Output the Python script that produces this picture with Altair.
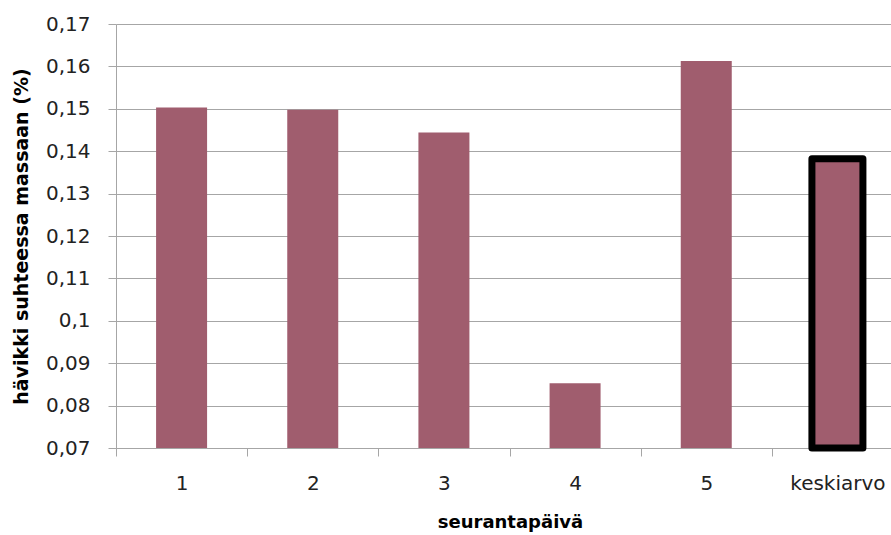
import altair as alt
import pandas as pd

# Loss relative to mass (%) per monitoring day, plus the mean
paivat = ["1", "2", "3", "4", "5", "keskiarvo"]
havikki = [0.1503, 0.1498, 0.1444, 0.0853, 0.1613, 0.1382]
korostus = [False, False, False, False, False, True]

df = pd.DataFrame({"paiva": paivat, "havikki": havikki, "keskiarvo": korostus})

FONT = "DejaVu Sans"
BAR = "#A05D6E"
GRID = "#A6A6A6"

base = alt.Chart(df).encode(
    x=alt.X(
        "paiva:N",
        sort=paivat,
        scale=alt.Scale(range=[0, 787], paddingInner=0, paddingOuter=0),
        axis=alt.Axis(
            title="seurantapäivä",
            labelAngle=0,
            labelFontSize=20,
            labelColor="#222222",
            labelPadding=17,
            tickBand="extent",
            tickSize=8,
            tickColor=GRID,
            domainColor=GRID,
            titleFontSize=18,
            titleFontWeight="bold",
            titleColor="#000000",
            titlePadding=20,
            titleX=394,
        ),
    ),
    y=alt.Y(
        "havikki:Q",
        scale=alt.Scale(domain=[0.07, 0.17], zero=False, nice=False),
        axis=alt.Axis(
            title="hävikki suhteessa massaan (%)",
            values=[0.07, 0.08, 0.09, 0.10, 0.11, 0.12, 0.13, 0.14, 0.15, 0.16, 0.17],
            labelExpr="replace(format(datum.value, '.2~f'), '.', ',')",
            labelFontSize=20,
            labelColor="#222222",
            labelPadding=18,
            tickSize=8,
            tickColor=GRID,
            domainColor=GRID,
            gridColor=GRID,
            gridWidth=1.2,
            titleFontSize=19,
            titleFontWeight="bold",
            titleColor="#000000",
            titlePadding=14,
        ),
    ),
    y2=alt.datum(0.07),
)

bars = base.transform_filter("!datum.keskiarvo").mark_bar(size=51, color=BAR)

mean_bar = base.transform_filter("datum.keskiarvo").mark_bar(
    size=51, color=BAR, stroke="#000000", strokeWidth=7, strokeJoin="round"
)

chart = (
    alt.layer(bars, mean_bar)
    .properties(
        width=775,
        height=424,
        autosize=alt.AutoSizeParams(type="none"),
        padding={"left": 116, "top": 24, "right": 0, "bottom": 87},
    )
    .configure(font=FONT)
    .configure_view(stroke=None)
)

chart.save("out.html", embed_options={"renderer": "svg", "actions": False})
